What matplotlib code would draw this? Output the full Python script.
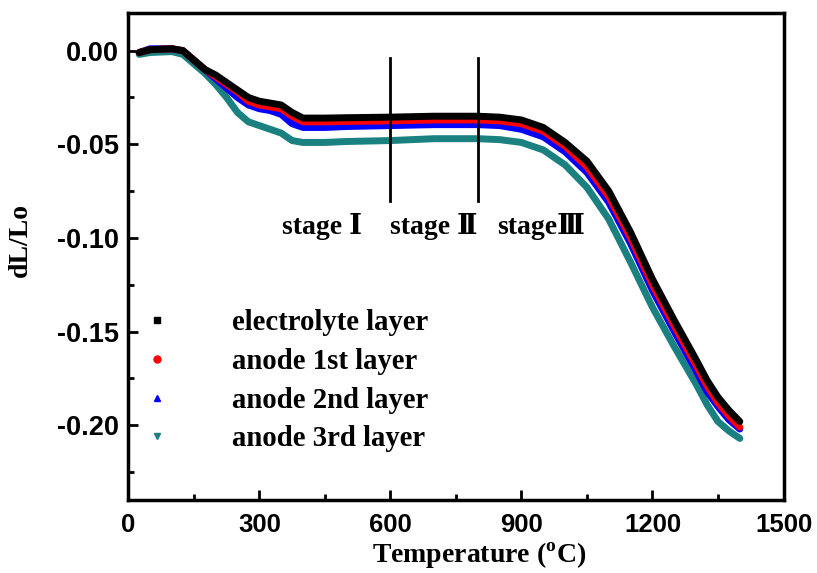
import matplotlib
matplotlib.use('Agg')
import matplotlib.pyplot as plt
from matplotlib.lines import Line2D
from matplotlib.ticker import MultipleLocator

# temperature (degC) and relative shrinkage dL/Lo
temp = [25, 50, 100, 125, 150, 175, 200, 225, 250, 275, 300, 325, 350, 375, 400, 450,
        500, 600, 700, 800, 850, 900, 950, 1000, 1050, 1100, 1150, 1200, 1250, 1300,
        1325, 1350, 1375, 1400]

electrolyte = [-0.001, 0.0005, 0.001, 0.0, -0.005, -0.010, -0.013, -0.017, -0.021, -0.025,
               -0.027, -0.028, -0.029, -0.033, -0.036, -0.036, -0.0358, -0.0355, -0.035, -0.035,
               -0.0355, -0.037, -0.041, -0.049, -0.059, -0.075, -0.097, -0.122, -0.144, -0.165,
               -0.176, -0.185, -0.192, -0.198]
anode1 = [-0.001, 0.0005, 0.001, 0.0, -0.005, -0.010, -0.014, -0.018, -0.022, -0.027,
          -0.029, -0.030, -0.031, -0.035, -0.038, -0.038, -0.0378, -0.0375, -0.037, -0.037,
          -0.0375, -0.039, -0.043, -0.051, -0.062, -0.078, -0.100, -0.125, -0.147, -0.168,
          -0.179, -0.188, -0.195, -0.201]
anode2 = [-0.001, 0.001, 0.001, 0.0, -0.005, -0.010, -0.015, -0.020, -0.025, -0.029,
          -0.031, -0.032, -0.034, -0.039, -0.041, -0.041, -0.0405, -0.040, -0.0395, -0.0395,
          -0.040, -0.042, -0.046, -0.054, -0.065, -0.081, -0.103, -0.128, -0.150, -0.171,
          -0.182, -0.190, -0.197, -0.202]
anode3 = [-0.002, -0.001, -0.0005, -0.002, -0.007, -0.012, -0.018, -0.025, -0.033, -0.038,
          -0.040, -0.042, -0.044, -0.048, -0.049, -0.049, -0.0485, -0.048, -0.047, -0.047,
          -0.0475, -0.049, -0.053, -0.061, -0.073, -0.090, -0.113, -0.137, -0.158, -0.178,
          -0.189, -0.198, -0.203, -0.207]

labels = ['electrolyte layer', 'anode 1st layer', 'anode 2nd layer', 'anode 3rd layer']
colors = ['black', 'red', 'blue', '#1a8080']
markers = ['s', 'o', '^', 'v']

stage_bounds = [600, 800]
stage_labels = ['stage Ⅰ', 'stage Ⅱ', 'stageⅢ']
stage_pos = [444, 700, 946]

serif = ['Liberation Serif', 'DejaVu Serif', 'Noto Sans CJK SC']

fig = plt.figure(figsize=(8.17, 5.73), dpi=100)
ax = fig.add_axes([0.157, 0.127, 0.802, 0.85])

# draw bottom series first so the black curve sits on top
series = [electrolyte, anode1, anode2, anode3]
for y, c, z in zip(series[::-1], colors[::-1], [1, 2, 3, 4]):
    ax.plot(temp, y, color=c, linewidth=5, solid_capstyle='round',
            solid_joinstyle='round', zorder=z)

for b in stage_bounds:
    ax.plot([b, b], [-0.004, -0.080], color='black', linewidth=2, zorder=5)
for s, p in zip(stage_labels, stage_pos):
    ax.text(p, -0.094, s, ha='center', va='center', fontsize=20,
            fontweight='bold', family=serif)

ax.set_xlim(0, 1500)
ax.set_ylim(-0.24, 0.02)
ax.xaxis.set_major_locator(MultipleLocator(300))
ax.xaxis.set_minor_locator(MultipleLocator(150))
ax.yaxis.set_major_locator(MultipleLocator(0.05))
ax.yaxis.set_minor_locator(MultipleLocator(0.025))
ax.yaxis.set_major_formatter(plt.FuncFormatter(lambda v, _: f'{v:.2f}'))
ax.tick_params(which='both', direction='in', width=2)
ax.tick_params(which='major', length=7)
ax.tick_params(which='minor', length=4)
for sp in ax.spines.values():
    sp.set_linewidth(2.5)

for t in ax.get_xticklabels():
    t.set_family('Liberation Sans')
    t.set_fontweight('bold')
    t.set_fontsize(18.5)
for t in ax.get_yticklabels():
    t.set_family('Liberation Sans')
    t.set_fontweight('bold')
    t.set_fontsize(19.5)
ax.tick_params(axis='x', pad=9)
ax.tick_params(axis='y', pad=7)

ax.set_xlabel('Temperature ($^\\mathregular{o}$C)', fontsize=20, fontweight='bold',
              family='Liberation Serif')
ax.xaxis.set_label_coords(0.536, -0.084)
ax.set_ylabel('dL/Lo', fontsize=20, fontweight='bold', family='Liberation Serif')
ax.yaxis.set_label_coords(-0.145, 0.534)

handles = [Line2D([], [], linestyle='none', marker=m, color=c, markersize=5)
           for m, c in zip(markers, colors)]
ax.legend(handles, labels, loc='upper left', bbox_to_anchor=(0.0, 0.416), frameon=False,
          borderaxespad=0, handlelength=1.2, handletextpad=2.0, labelspacing=0.41,
          prop={'family': 'Liberation Serif', 'weight': 'bold', 'size': 20.7})

fig.savefig('out.png', dpi=100)
